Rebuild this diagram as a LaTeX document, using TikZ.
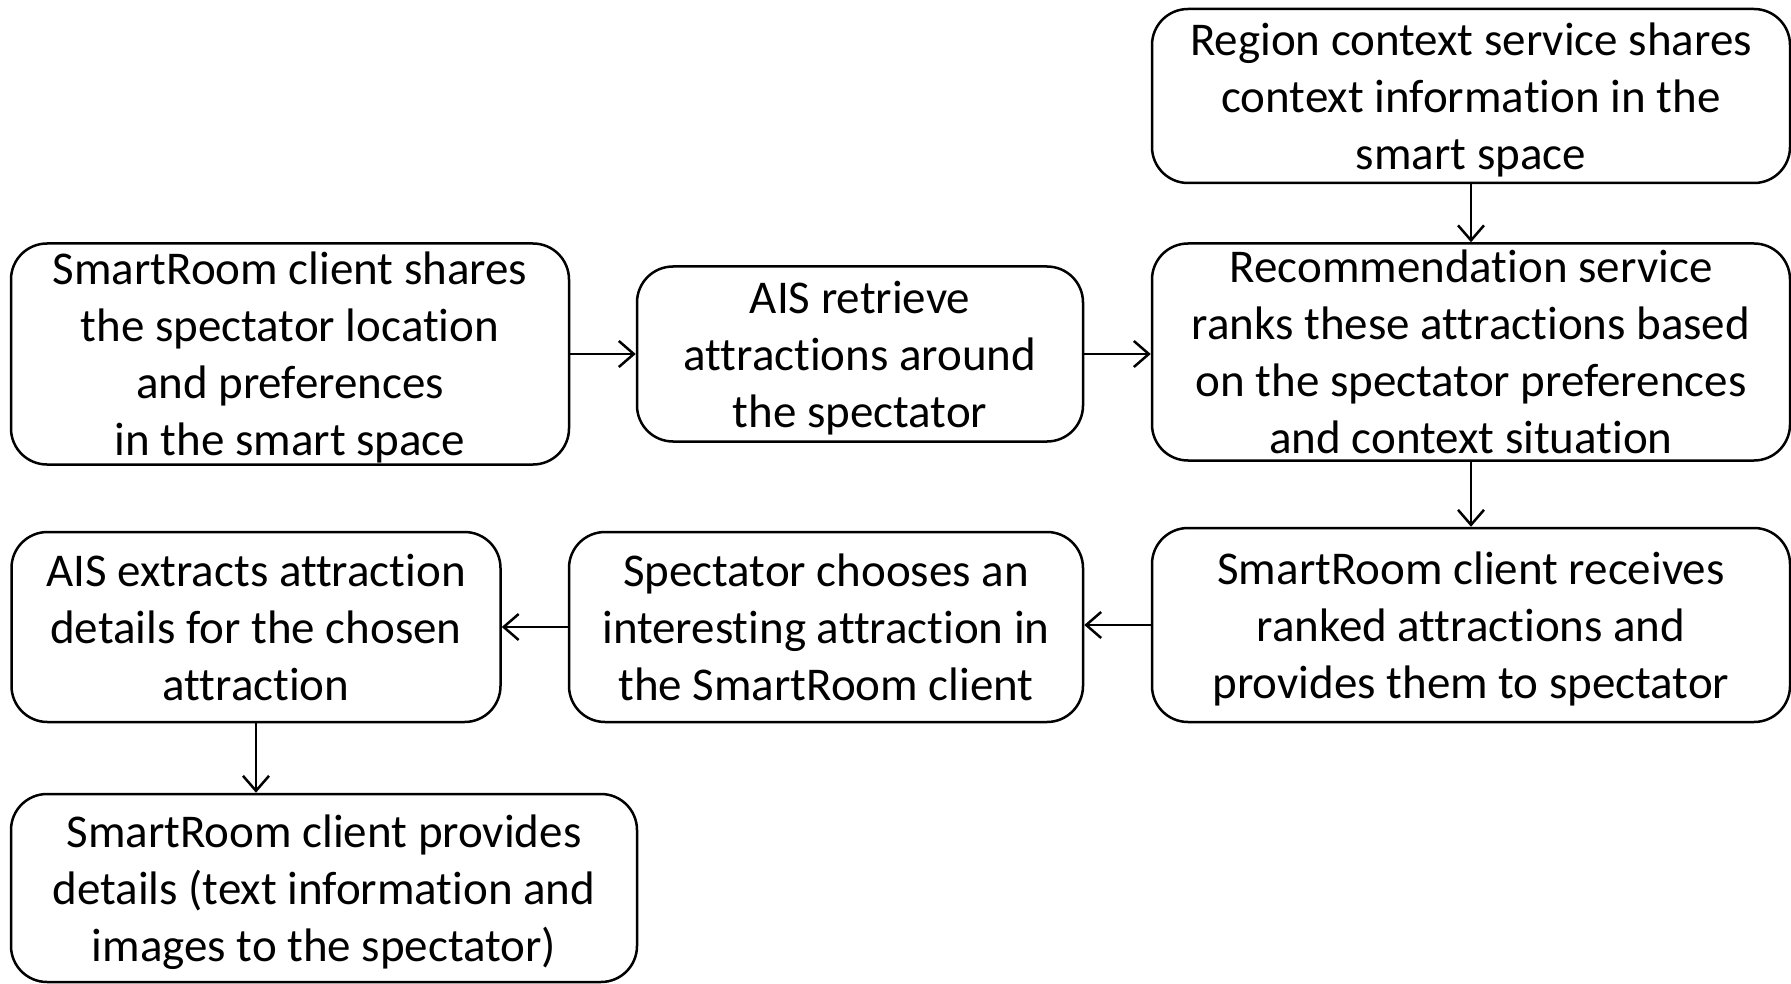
\documentclass[tikz,border=0pt]{standalone}
\usepackage{fontspec}
\setmainfont{Carlito}[Ligatures={CommonOff,ContextualOff}, Contextuals=AlternateOff]
\usetikzlibrary{arrows.meta}

\tikzstyle{every node}=[draw, line width=2.5pt, rounded corners=36pt, align=center, inner sep=0pt, font=\fontsize{47}{57}\selectfont]
\tikzstyle{threelines}=[text height=158.7pt, text depth=12.6pt]
\tikzstyle{fourlines}=[text height=205.7pt, text depth=2.6pt]

\begin{document}
\begin{tikzpicture}[x=1pt, y=-1pt, line width=2.5pt, >={Straight Barb[length=15pt,width=26pt]}]
    \useasboundingbox (0,0) rectangle (1791,984);
    \node[threelines, minimum width=638pt, minimum height=174pt] (n1) at (1471,96) {Region context service shares\\context information in the\\smart space};
    \node[fourlines, minimum width=558pt, minimum height=221pt] (n2) at (290,354) {SmartRoom client shares\\the spectator location\\and preferences\\in the smart space};
    \node[threelines, minimum width=446pt, minimum height=175pt] (n3) at (860,354) {AIS retrieve\\attractions around\\the spectator};
    \node[fourlines, minimum width=638pt, minimum height=217pt] (n4) at (1471,352) {Recommendation service\\ranks these attractions based\\on the spectator preferences\\and context situation};
    \node[threelines, minimum width=638pt, minimum height=194pt] (n5) at (1471,625) {SmartRoom client receives\\ranked attractions and\\provides them to spectator};
    \node[threelines, minimum width=514pt, minimum height=190pt] (n6) at (826,627) {Spectator chooses an\\interesting attraction in\\the SmartRoom client};
    \node[threelines, minimum width=489pt, minimum height=190pt] (n7) at (256,627) {AIS extracts attraction\\details for the chosen\\attraction};
    \node[threelines, minimum width=626pt, minimum height=188pt] (n8) at (324,888) {SmartRoom client provides\\details (text information and\\images to the spectator)};
    \path[every edge/.append style={->}]
    (n2) edge (n3)
    (n3.east) edge (n3.east -| n4.west)
    (n1) edge (n4)
    (n4) edge (n5)
    (n5.west) edge (n5.west -| n6.east)
    (n6) edge (n7)
    (n7.south) edge (n7.south |- n8.north)
	;
  \end{tikzpicture}
\end{document}
